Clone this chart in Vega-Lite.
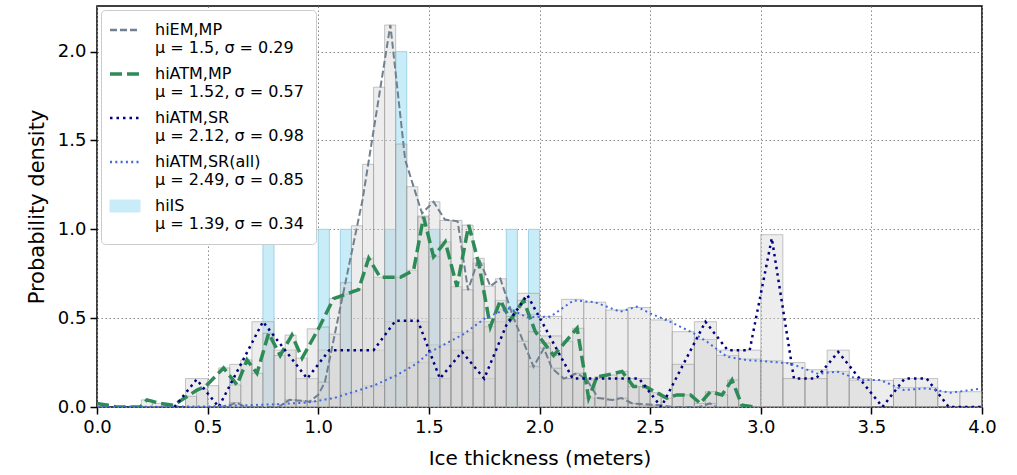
{
  "$schema": "https://vega.github.io/schema/vega-lite/v6.json",
  "width": 885,
  "height": 401,
  "autosize": "none",
  "padding": {"left": 97, "top": 6, "right": 35, "bottom": 68},
  "config": {
    "font": "DejaVu Sans",
    "view": {"stroke": "black", "strokeWidth": 1.5},
    "axis": {
      "labelFontSize": 18, "titleFontSize": 20, "labelColor": "black", "titleColor": "black",
      "titleFontWeight": "normal", "tickColor": "black", "tickSize": 7, "tickWidth": 1.5, "labelFlush": false,
      "domain": false, "grid": true, "gridColor": "#8a8a8a", "gridDash": [1.5, 2.5], "gridWidth": 1, "labelPadding": 4
    }
  },
  "datasets": {
    "gray": [
      {"x0":0.8,"x1":0.9,"h":0.015},{"x0":0.9,"x1":1.0,"h":0.03},{"x0":1.0,"x1":1.1,"h":0.05},{"x0":1.1,"x1":1.2,"h":0.08},{"x0":1.2,"x1":1.3,"h":0.12},{"x0":1.3,"x1":1.4,"h":0.17},{"x0":1.4,"x1":1.5,"h":0.25},{"x0":1.5,"x1":1.6,"h":0.35},{"x0":1.6,"x1":1.7,"h":0.42},{"x0":1.7,"x1":1.8,"h":0.48},{"x0":1.8,"x1":1.9,"h":0.55},{"x0":1.9,"x1":2.0,"h":0.52},{"x0":2.0,"x1":2.1,"h":0.51},{"x0":2.1,"x1":2.2,"h":0.606},{"x0":2.2,"x1":2.3,"h":0.59},{"x0":2.3,"x1":2.4,"h":0.546},{"x0":2.4,"x1":2.5,"h":0.56},{"x0":2.5,"x1":2.6,"h":0.49},{"x0":2.6,"x1":2.7,"h":0.424},{"x0":2.7,"x1":2.8,"h":0.38},{"x0":2.8,"x1":2.9,"h":0.29},{"x0":2.9,"x1":3.0,"h":0.27},{"x0":3.0,"x1":3.1,"h":0.26},{"x0":3.1,"x1":3.2,"h":0.25},{"x0":3.2,"x1":3.3,"h":0.21},{"x0":3.3,"x1":3.4,"h":0.2},{"x0":3.4,"x1":3.5,"h":0.15},{"x0":3.5,"x1":3.6,"h":0.15},{"x0":3.6,"x1":3.7,"h":0.11},{"x0":3.7,"x1":3.8,"h":0.11},{"x0":3.8,"x1":3.9,"h":0.086},{"x0":3.9,"x1":4.0,"h":0.086},
      {"x0":0.4,"x1":0.5,"h":0.16},{"x0":0.6,"x1":0.7,"h":0.24},{"x0":0.7,"x1":0.8,"h":0.48},{"x0":0.8,"x1":0.9,"h":0.32},{"x0":0.9,"x1":1.0,"h":0.16},{"x0":1.0,"x1":1.1,"h":0.32},{"x0":1.1,"x1":1.2,"h":0.32},{"x0":1.2,"x1":1.3,"h":0.32},{"x0":1.3,"x1":1.4,"h":0.48},{"x0":1.4,"x1":1.5,"h":0.48},{"x0":1.5,"x1":1.6,"h":0.16},{"x0":1.6,"x1":1.7,"h":0.32},{"x0":1.7,"x1":1.8,"h":0.16},{"x0":1.8,"x1":1.9,"h":0.48},{"x0":1.9,"x1":2.0,"h":0.64},{"x0":2.0,"x1":2.1,"h":0.4},{"x0":2.1,"x1":2.2,"h":0.16},{"x0":2.2,"x1":2.3,"h":0.16},{"x0":2.3,"x1":2.4,"h":0.16},{"x0":2.4,"x1":2.5,"h":0.16},{"x0":2.6,"x1":2.7,"h":0.24},{"x0":2.7,"x1":2.8,"h":0.48},{"x0":2.8,"x1":2.9,"h":0.32},{"x0":2.9,"x1":3.0,"h":0.32},{"x0":3.0,"x1":3.1,"h":0.97},{"x0":3.1,"x1":3.2,"h":0.16},{"x0":3.2,"x1":3.3,"h":0.16},{"x0":3.3,"x1":3.4,"h":0.32},{"x0":3.4,"x1":3.5,"h":0.16},{"x0":3.6,"x1":3.7,"h":0.16},{"x0":3.7,"x1":3.8,"h":0.16},
      {"x0":0.0,"x1":0.05,"h":0.02},{"x0":0.2,"x1":0.25,"h":0.04},{"x0":0.25,"x1":0.3,"h":0.02},{"x0":0.3,"x1":0.35,"h":0.01},{"x0":0.4,"x1":0.45,"h":0.06},{"x0":0.45,"x1":0.5,"h":0.1},{"x0":0.5,"x1":0.55,"h":0.12},{"x0":0.55,"x1":0.6,"h":0.22},{"x0":0.6,"x1":0.65,"h":0.124},{"x0":0.65,"x1":0.7,"h":0.265},{"x0":0.7,"x1":0.75,"h":0.19},{"x0":0.75,"x1":0.8,"h":0.415},{"x0":0.8,"x1":0.85,"h":0.29},{"x0":0.85,"x1":0.9,"h":0.405},{"x0":0.9,"x1":0.95,"h":0.275},{"x0":0.95,"x1":1.0,"h":0.44},{"x0":1.0,"x1":1.05,"h":0.45},{"x0":1.05,"x1":1.1,"h":0.61},{"x0":1.1,"x1":1.15,"h":0.635},{"x0":1.15,"x1":1.2,"h":0.66},{"x0":1.2,"x1":1.25,"h":0.837},{"x0":1.25,"x1":1.3,"h":0.73},{"x0":1.3,"x1":1.35,"h":0.73},{"x0":1.35,"x1":1.4,"h":0.73},{"x0":1.4,"x1":1.45,"h":0.77},{"x0":1.45,"x1":1.5,"h":1.07},{"x0":1.5,"x1":1.55,"h":0.846},{"x0":1.55,"x1":1.6,"h":0.93},{"x0":1.6,"x1":1.65,"h":0.677},{"x0":1.65,"x1":1.7,"h":1.024},{"x0":1.7,"x1":1.75,"h":0.81},{"x0":1.75,"x1":1.8,"h":0.452},{"x0":1.8,"x1":1.85,"h":0.6},{"x0":1.85,"x1":1.9,"h":0.49},{"x0":1.9,"x1":1.95,"h":0.6},{"x0":1.95,"x1":2.0,"h":0.424},{"x0":2.0,"x1":2.05,"h":0.36},{"x0":2.05,"x1":2.1,"h":0.29},{"x0":2.1,"x1":2.15,"h":0.37},{"x0":2.15,"x1":2.2,"h":0.443},{"x0":2.2,"x1":2.25,"h":0.05},{"x0":2.25,"x1":2.3,"h":0.17},{"x0":2.3,"x1":2.35,"h":0.18},{"x0":2.35,"x1":2.4,"h":0.2},{"x0":2.4,"x1":2.45,"h":0.115},{"x0":2.45,"x1":2.5,"h":0.115},{"x0":2.5,"x1":2.55,"h":0.08},{"x0":2.55,"x1":2.6,"h":0.05},{"x0":2.6,"x1":2.65,"h":0.068},{"x0":2.65,"x1":2.7,"h":0.068},{"x0":2.7,"x1":2.75,"h":0.02},{"x0":2.75,"x1":2.8,"h":0.086},{"x0":2.8,"x1":2.85,"h":0.068},{"x0":2.85,"x1":2.9,"h":0.152},{"x0":2.9,"x1":2.95,"h":0.01},
      {"x0":0.6,"x1":0.65,"h":0.025},{"x0":0.85,"x1":0.9,"h":0.04},{"x0":0.9,"x1":0.95,"h":0.035},{"x0":0.95,"x1":1.0,"h":0.03},{"x0":1.0,"x1":1.05,"h":0.14},{"x0":1.05,"x1":1.1,"h":0.41},{"x0":1.1,"x1":1.15,"h":0.7},{"x0":1.15,"x1":1.2,"h":1.02},{"x0":1.2,"x1":1.25,"h":1.366},{"x0":1.25,"x1":1.3,"h":1.8},{"x0":1.3,"x1":1.35,"h":2.15},{"x0":1.35,"x1":1.4,"h":1.48},{"x0":1.4,"x1":1.45,"h":1.24},{"x0":1.45,"x1":1.5,"h":1.075},{"x0":1.5,"x1":1.55,"h":1.155},{"x0":1.55,"x1":1.6,"h":1.05},{"x0":1.6,"x1":1.65,"h":1.05},{"x0":1.65,"x1":1.7,"h":0.66},{"x0":1.7,"x1":1.75,"h":0.837},{"x0":1.75,"x1":1.8,"h":0.68},{"x0":1.8,"x1":1.85,"h":0.722},{"x0":1.85,"x1":1.9,"h":0.51},{"x0":1.9,"x1":1.95,"h":0.37},{"x0":1.95,"x1":2.0,"h":0.227},{"x0":2.0,"x1":2.05,"h":0.33},{"x0":2.05,"x1":2.1,"h":0.218},{"x0":2.1,"x1":2.15,"h":0.16},{"x0":2.15,"x1":2.2,"h":0.19},{"x0":2.2,"x1":2.25,"h":0.152},{"x0":2.25,"x1":2.3,"h":0.05},{"x0":2.3,"x1":2.35,"h":0.04},{"x0":2.35,"x1":2.4,"h":0.05},{"x0":2.4,"x1":2.45,"h":0.02},{"x0":2.45,"x1":2.5,"h":0.01},{"x0":2.5,"x1":2.55,"h":0.01},{"x0":2.75,"x1":2.8,"h":0.02}
    ],
    "is": [
      {"s":"IS","x0":0.75,"x1":0.8,"h":1},{"s":"IS","x0":1.0,"x1":1.05,"h":1},{"s":"IS","x0":1.1,"x1":1.15,"h":1},{"s":"IS","x0":1.3,"x1":1.35,"h":1},{"s":"IS","x0":1.35,"x1":1.4,"h":2},{"s":"IS","x0":1.5,"x1":1.55,"h":1},{"s":"IS","x0":1.85,"x1":1.9,"h":1},{"s":"IS","x0":1.95,"x1":2.0,"h":1}
    ],
    "lines": [
      {"s":"EM","x":0.55,"y":0},{"s":"EM","x":0.6,"y":0.01},{"s":"EM","x":0.63,"y":0.025},{"s":"EM","x":0.67,"y":0},{"s":"EM","x":0.82,"y":0},{"s":"EM","x":0.87,"y":0.04},{"s":"EM","x":0.93,"y":0.035},{"s":"EM","x":0.96,"y":0.03},{"s":"EM","x":1.0,"y":0.068},{"s":"EM","x":1.03,"y":0.14},{"s":"EM","x":1.2,"y":1.165},{"s":"EM","x":1.326,"y":2.15},{"s":"EM","x":1.393,"y":1.39},{"s":"EM","x":1.469,"y":1.09},{"s":"EM","x":1.521,"y":1.155},{"s":"EM","x":1.572,"y":1.055},{"s":"EM","x":1.63,"y":1.045},{"s":"EM","x":1.677,"y":0.658},{"s":"EM","x":1.725,"y":0.837},{"s":"EM","x":1.778,"y":0.68},{"s":"EM","x":1.823,"y":0.722},{"s":"EM","x":1.88,"y":0.51},{"s":"EM","x":1.973,"y":0.227},{"s":"EM","x":2.02,"y":0.33},{"s":"EM","x":2.056,"y":0.218},{"s":"EM","x":2.11,"y":0.16},{"s":"EM","x":2.17,"y":0.19},{"s":"EM","x":2.215,"y":0.152},{"s":"EM","x":2.265,"y":0.05},{"s":"EM","x":2.33,"y":0.04},{"s":"EM","x":2.37,"y":0.05},{"s":"EM","x":2.42,"y":0.02},{"s":"EM","x":2.55,"y":0.01},{"s":"EM","x":2.6,"y":0},{"s":"EM","x":2.72,"y":0},{"s":"EM","x":2.77,"y":0.02},{"s":"EM","x":2.8,"y":0},
      {"s":"MP","x":0.0,"y":0.02},{"s":"MP","x":0.09,"y":0},{"s":"MP","x":0.196,"y":0},{"s":"MP","x":0.226,"y":0.04},{"s":"MP","x":0.286,"y":0.02},{"s":"MP","x":0.346,"y":0.01},{"s":"MP","x":0.452,"y":0.095},{"s":"MP","x":0.49,"y":0.115},{"s":"MP","x":0.572,"y":0.22},{"s":"MP","x":0.633,"y":0.124},{"s":"MP","x":0.678,"y":0.265},{"s":"MP","x":0.723,"y":0.19},{"s":"MP","x":0.776,"y":0.415},{"s":"MP","x":0.828,"y":0.29},{"s":"MP","x":0.881,"y":0.405},{"s":"MP","x":0.927,"y":0.275},{"s":"MP","x":1.005,"y":0.45},{"s":"MP","x":1.069,"y":0.61},{"s":"MP","x":1.182,"y":0.66},{"s":"MP","x":1.228,"y":0.837},{"s":"MP","x":1.28,"y":0.73},{"s":"MP","x":1.371,"y":0.73},{"s":"MP","x":1.431,"y":0.77},{"s":"MP","x":1.476,"y":1.07},{"s":"MP","x":1.521,"y":0.846},{"s":"MP","x":1.574,"y":0.93},{"s":"MP","x":1.627,"y":0.677},{"s":"MP","x":1.68,"y":1.024},{"s":"MP","x":1.725,"y":0.81},{"s":"MP","x":1.778,"y":0.452},{"s":"MP","x":1.823,"y":0.6},{"s":"MP","x":1.868,"y":0.49},{"s":"MP","x":1.928,"y":0.6},{"s":"MP","x":1.981,"y":0.424},{"s":"MP","x":2.064,"y":0.29},{"s":"MP","x":2.17,"y":0.443},{"s":"MP","x":2.222,"y":0.05},{"s":"MP","x":2.26,"y":0.17},{"s":"MP","x":2.305,"y":0.18},{"s":"MP","x":2.373,"y":0.2},{"s":"MP","x":2.425,"y":0.115},{"s":"MP","x":2.478,"y":0.115},{"s":"MP","x":2.576,"y":0.05},{"s":"MP","x":2.621,"y":0.068},{"s":"MP","x":2.682,"y":0.068},{"s":"MP","x":2.727,"y":0.02},{"s":"MP","x":2.772,"y":0.086},{"s":"MP","x":2.825,"y":0.068},{"s":"MP","x":2.87,"y":0.152},{"s":"MP","x":2.915,"y":0.01},{"s":"MP","x":2.968,"y":0},
      {"s":"SR","x":0.35,"y":0},{"s":"SR","x":0.45,"y":0.155},{"s":"SR","x":0.55,"y":0},{"s":"SR","x":0.75,"y":0.48},{"s":"SR","x":0.95,"y":0.16},{"s":"SR","x":1.05,"y":0.32},{"s":"SR","x":1.25,"y":0.32},{"s":"SR","x":1.35,"y":0.486},{"s":"SR","x":1.45,"y":0.486},{"s":"SR","x":1.55,"y":0.16},{"s":"SR","x":1.65,"y":0.31},{"s":"SR","x":1.75,"y":0.16},{"s":"SR","x":1.85,"y":0.46},{"s":"SR","x":1.945,"y":0.63},{"s":"SR","x":2.15,"y":0.16},{"s":"SR","x":2.45,"y":0.16},{"s":"SR","x":2.55,"y":0},{"s":"SR","x":2.75,"y":0.48},{"s":"SR","x":2.85,"y":0.32},{"s":"SR","x":2.95,"y":0.32},{"s":"SR","x":3.05,"y":0.95},{"s":"SR","x":3.15,"y":0.16},{"s":"SR","x":3.25,"y":0.16},{"s":"SR","x":3.35,"y":0.31},{"s":"SR","x":3.45,"y":0.155},{"s":"SR","x":3.55,"y":0},{"s":"SR","x":3.65,"y":0.16},{"s":"SR","x":3.75,"y":0.16},{"s":"SR","x":3.85,"y":0},{"s":"SR","x":4.0,"y":0},
      {"s":"SRall","x":0.0,"y":0},{"s":"SRall","x":0.5,"y":0.003},{"s":"SRall","x":0.8,"y":0.015},{"s":"SRall","x":0.95,"y":0.025},{"s":"SRall","x":1.07,"y":0.05},{"s":"SRall","x":1.25,"y":0.12},{"s":"SRall","x":1.356,"y":0.18},{"s":"SRall","x":1.446,"y":0.245},{"s":"SRall","x":1.5,"y":0.305},{"s":"SRall","x":1.657,"y":0.41},{"s":"SRall","x":1.76,"y":0.505},{"s":"SRall","x":1.86,"y":0.555},{"s":"SRall","x":1.944,"y":0.505},{"s":"SRall","x":2.049,"y":0.508},{"s":"SRall","x":2.154,"y":0.6},{"s":"SRall","x":2.25,"y":0.59},{"s":"SRall","x":2.365,"y":0.536},{"s":"SRall","x":2.44,"y":0.565},{"s":"SRall","x":2.5,"y":0.527},{"s":"SRall","x":2.59,"y":0.48},{"s":"SRall","x":2.697,"y":0.415},{"s":"SRall","x":2.757,"y":0.367},{"s":"SRall","x":2.847,"y":0.283},{"s":"SRall","x":2.938,"y":0.264},{"s":"SRall","x":3.043,"y":0.255},{"s":"SRall","x":3.134,"y":0.245},{"s":"SRall","x":3.261,"y":0.186},{"s":"SRall","x":3.345,"y":0.2},{"s":"SRall","x":3.45,"y":0.152},{"s":"SRall","x":3.54,"y":0.152},{"s":"SRall","x":3.646,"y":0.096},{"s":"SRall","x":3.75,"y":0.105},{"s":"SRall","x":3.857,"y":0.08},{"s":"SRall","x":4.0,"y":0.105}
    ]
  },
  "layer": [
    {
      "data": {"name": "is"},
      "mark": {"type": "bar", "stroke": "#9fd2e4", "strokeWidth": 1, "clip": true},
      "encoding": {
        "x": {"field": "x0", "type": "quantitative", "scale": {"domain": [0, 4], "nice": false},
              "axis": {"values": [0, 0.5, 1, 1.5, 2, 2.5, 3, 3.5, 4], "format": ".1f", "title": "Ice thickness (meters)", "titlePadding": 12}},
        "x2": {"field": "x1"},
        "y": {"field": "h", "type": "quantitative", "scale": {"domain": [0, 2.257], "nice": false},
              "axis": {"values": [0, 0.5, 1, 1.5, 2], "format": ".1f", "title": "Probability density", "titlePadding": 10, "titleFontSize": 21}},
        "y2": {"datum": 0},
        "color": {
          "field": "s", "type": "nominal",
          "scale": {"domain": ["EM", "MP", "SR", "SRall", "IS"], "range": ["#708090", "#2e8b57", "#000080", "#4169e1", "#c8ecf8"]},
          "legend": {
            "title": null, "orient": "top-left", "offset": 4, "fillColor": "white", "strokeColor": "#cccccc", "cornerRadius": 4, "padding": 12,
            "labelFontSize": 16, "labelLimit": 0, "labelOffset": 22, "symbolOffset": 4, "symbolSize": 900, "rowPadding": 10, "labelColor": "black",
            "symbolType": {"expr": "datum.value == 'IS' ? 'M-1,-0.4L1,-0.4L1,0.4L-1,0.4Z' : 'stroke'"},
            "symbolStrokeWidth": {"expr": "datum.value == 'MP' ? 3.5 : datum.value == 'IS' ? 1 : 2.5"},
            "symbolStrokeColor": {"expr": "datum.value == 'IS' ? '#9fc9d8' : null"},
            "symbolDash": {"expr": "datum.value == 'EM' ? [7, 3] : datum.value == 'MP' ? [12, 5] : datum.value == 'SR' ? [2.5, 4] : datum.value == 'SRall' ? [2, 3.3] : [1, 0]"},
            "labelExpr": "datum.value == 'EM' ? ['hiEM,MP', 'μ = 1.5, σ = 0.29'] : datum.value == 'MP' ? ['hiATM,MP', 'μ = 1.52, σ = 0.57'] : datum.value == 'SR' ? ['hiATM,SR', 'μ = 2.12, σ = 0.98'] : datum.value == 'SRall' ? ['hiATM,SR(all)', 'μ = 2.49, σ = 0.85'] : ['hiIS', 'μ = 1.39, σ = 0.34']"
          }
        }
      }
    },
    {
      "data": {"name": "gray"},
      "mark": {"type": "bar", "fill": "#cfcfcf", "fillOpacity": 0.38, "stroke": "#8f8f8f", "strokeOpacity": 0.5, "strokeWidth": 1, "clip": true},
      "encoding": {
        "x": {"field": "x0", "type": "quantitative"},
        "x2": {"field": "x1"},
        "y": {"field": "h", "type": "quantitative"},
        "y2": {"datum": 0}
      }
    },
    {
      "data": {"name": "lines"},
      "transform": [{"filter": "datum.s == 'EM'"}],
      "mark": {"type": "line", "clip": true, "strokeWidth": 2, "strokeDash": [7, 3]},
      "encoding": {
        "x": {"field": "x", "type": "quantitative"},
        "y": {"field": "y", "type": "quantitative"},
        "color": {"field": "s", "type": "nominal"}
      }
    },
    {
      "data": {"name": "lines"},
      "transform": [{"filter": "datum.s == 'MP'"}],
      "mark": {"type": "line", "clip": true, "strokeWidth": 3.5, "strokeDash": [12, 5]},
      "encoding": {
        "x": {"field": "x", "type": "quantitative"},
        "y": {"field": "y", "type": "quantitative"},
        "color": {"field": "s", "type": "nominal"}
      }
    },
    {
      "data": {"name": "lines"},
      "transform": [{"filter": "datum.s == 'SR'"}],
      "mark": {"type": "line", "clip": true, "strokeWidth": 2.5, "strokeDash": [2.5, 4]},
      "encoding": {
        "x": {"field": "x", "type": "quantitative"},
        "y": {"field": "y", "type": "quantitative"},
        "color": {"field": "s", "type": "nominal"}
      }
    },
    {
      "data": {"name": "lines"},
      "transform": [{"filter": "datum.s == 'SRall'"}],
      "mark": {"type": "line", "clip": true, "strokeWidth": 2, "strokeDash": [2, 3.3]},
      "encoding": {
        "x": {"field": "x", "type": "quantitative"},
        "y": {"field": "y", "type": "quantitative"},
        "color": {"field": "s", "type": "nominal"}
      }
    }
  ]
}
